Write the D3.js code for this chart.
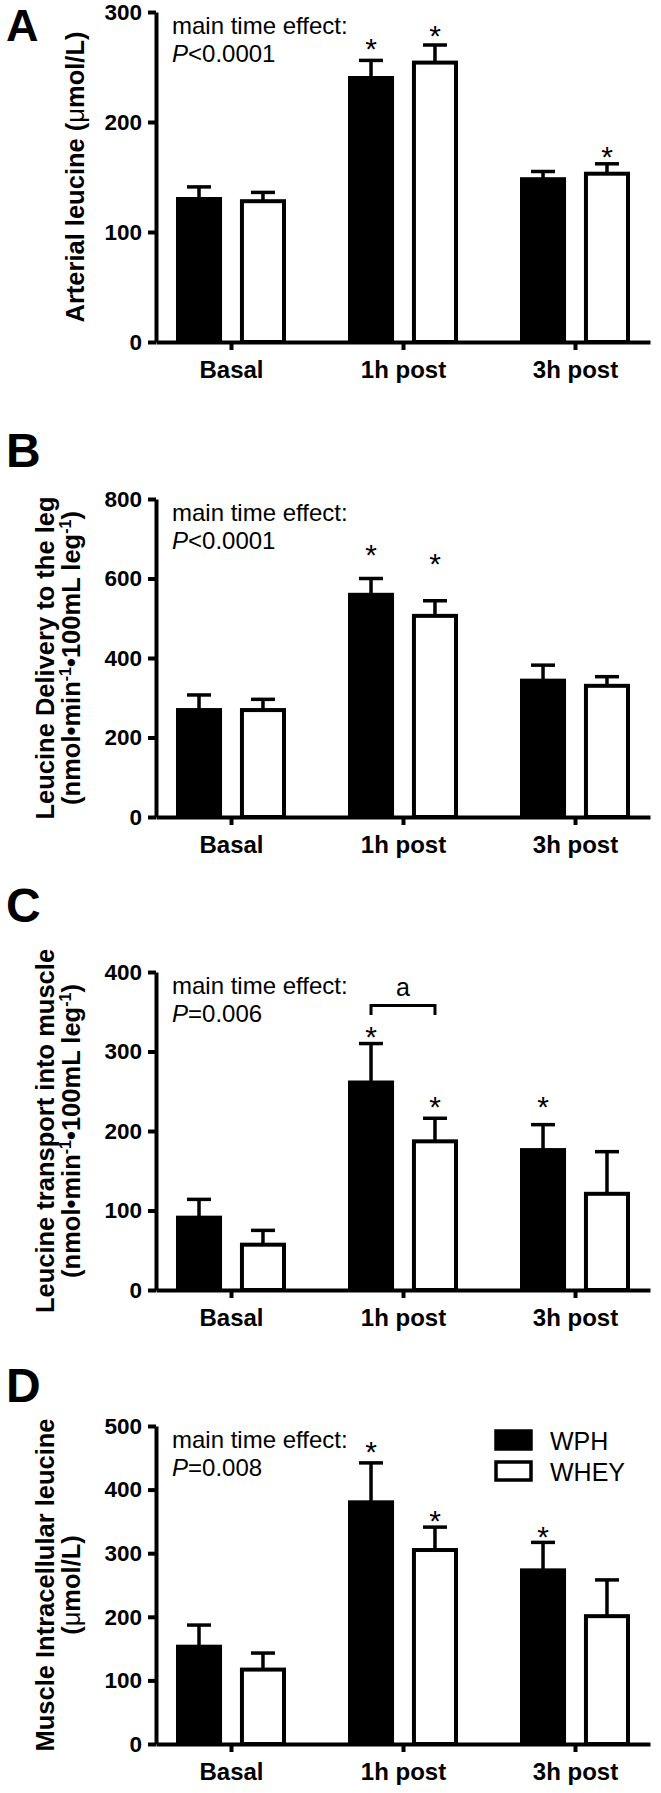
<!DOCTYPE html>
<html><head><meta charset="utf-8">
<script src="https://cdn.jsdelivr.net/npm/d3@7/dist/d3.min.js"></script>
<style>
html,body{margin:0;padding:0;background:#fff;}
svg text{font-family:"Liberation Sans",Arial,sans-serif;fill:#000;}
</style></head>
<body>
<svg id="chart" width="661" height="1793"></svg>
<script>
// ---------- data ----------
const categories = ["Basal", "1h post", "3h post"];
const seriesNames = ["WPH", "WHEY"];

const aTicks = [0, 100, 200, 300];
const aWPH = [130, 240, 148];
const aWPHsem = [11, 16, 7];
const aWHEY = [128, 254, 153];
const aWHEYsem = [8, 16, 9];
const aStars = [["1h post", "WPH", 273], ["1h post", "WHEY", 285], ["3h post", "WHEY", 175]];

const bTicks = [0, 200, 400, 600, 800];
const bWPH = [269, 559, 343];
const bWPHsem = [38, 41, 39];
const bWHEY = [269, 506, 330];
const bWHEYsem = [27, 38, 23];
const bStars = [["1h post", "WPH", 677], ["1h post", "WHEY", 654]];

const cTicks = [0, 100, 200, 300, 400];
const cWPH = [91, 261, 176];
const cWPHsem = [23, 49, 32];
const cWHEY = [57, 187, 121];
const cWHEYsem = [18, 29, 53];
const cStars = [["1h post", "WPH", 327], ["1h post", "WHEY", 239], ["3h post", "WPH", 239]];
const cBracket = ["1h post", 358, 346, 378]; // category, top value, end value, label value

const dTicks = [0, 100, 200, 300, 400, 500];
const dWPH = [153, 380, 273];
const dWPHsem = [34, 62, 44];
const dWHEY = [117, 305, 201];
const dWHEYsem = [26, 36, 57];
const dStars = [["1h post", "WPH", 470], ["1h post", "WHEY", 362], ["3h post", "WPH", 336]];

const pTexts = ["<0.0001", "<0.0001", "=0.006", "=0.008"];

// ---------- layout ----------
const svg = d3.select("#chart");
const axisX = 156, axisRight = 650;
const FONT = '"Liberation Sans",Arial,sans-serif';

const x = d3.scalePoint().domain(categories).range([axisX, axisRight]).padding(0.436);
const xi = d3.scaleBand().domain(seriesNames).range([-55, 55]).paddingInner(0.28);
const fills = {WPH: "#000", WHEY: "#fff"};

const panels = [
  {letter: "A", ly: 41, lsize: 45, top: 12, bottom: 342, max: 300, ticks: aTicks,
   vals: {WPH: aWPH, WHEY: aWHEY}, sems: {WPH: aWPHsem, WHEY: aWHEYsem}, stars: aStars,
   title: [{x: 84, parts: [["Arterial leucine (", "bold"], ["μ", "normal"], ["mol/L)", "bold"]]}]},
  {letter: "B", ly: 467, lsize: 48, top: 499, bottom: 817, max: 800, ticks: bTicks,
   vals: {WPH: bWPH, WHEY: bWHEY}, sems: {WPH: bWPHsem, WHEY: bWHEYsem}, stars: bStars,
   title: [{x: 54, parts: [["Leucine Delivery to the leg", "bold"]]}, {x: 80, unit: true}]},
  {letter: "C", ly: 922, lsize: 48, top: 972, bottom: 1290, max: 400, ticks: cTicks,
   vals: {WPH: cWPH, WHEY: cWHEY}, sems: {WPH: cWPHsem, WHEY: cWHEYsem}, stars: cStars, bracket: cBracket,
   title: [{x: 54, parts: [["Leucine transport into muscle", "bold"]]}, {x: 80, unit: true}]},
  {letter: "D", ly: 1402, lsize: 48, top: 1426, bottom: 1744, max: 500, ticks: dTicks, legend: true,
   vals: {WPH: dWPH, WHEY: dWHEY}, sems: {WPH: dWPHsem, WHEY: dWHEYsem}, stars: dStars,
   title: [{x: 54, parts: [["Muscle Intracellular leucine", "bold"]]}, {x: 80, parts: [["(", "bold"], ["μ", "normal"], ["mol/L)", "bold"]]}]}
];

panels.forEach((p, pi) => {
  const g = svg.append("g");
  const y = d3.scaleLinear().domain([0, p.max]).range([p.bottom, p.top]);

  // panel letter
  g.append("text").attr("x", 6).attr("y", p.ly).attr("font-size", p.lsize).attr("font-weight", "bold").text(p.letter);

  // y-axis title
  const cy = (p.top + p.bottom) / 2;
  p.title.forEach(t => {
    const tx = g.append("text").attr("transform", `translate(${t.x},${cy}) rotate(-90)`)
      .attr("text-anchor", "middle").attr("font-size", 25.5).attr("font-weight", "bold");
    if (t.unit) {
      tx.append("tspan").text("(nmol•min");
      tx.append("tspan").attr("dy", -9).attr("font-size", 16).text("-1");
      tx.append("tspan").attr("dy", 9).text("•100mL leg");
      tx.append("tspan").attr("dy", -9).attr("font-size", 16).text("-1");
      tx.append("tspan").attr("dy", 9).text(")");
    } else {
      t.parts.forEach(pt => tx.append("tspan").attr("font-weight", pt[1]).text(pt[0]));
    }
  });

  // bars
  seriesNames.forEach(s => {
    categories.forEach((c, i) => {
      const v = p.vals[s][i], e = p.sems[s][i];
      const cx = x(c) + xi(s) + xi.bandwidth() / 2;
      // error bar (upward)
      g.append("line").attr("x1", cx).attr("x2", cx).attr("y1", y(v)).attr("y2", y(v + e))
        .attr("stroke", "#000").attr("stroke-width", 3.5);
      g.append("line").attr("x1", cx - 12).attr("x2", cx + 12).attr("y1", y(v + e)).attr("y2", y(v + e))
        .attr("stroke", "#000").attr("stroke-width", 3.5);
      g.append("rect").attr("x", x(c) + xi(s) + 2).attr("width", xi.bandwidth() - 4)
        .attr("y", y(v)).attr("height", y(0) - y(v))
        .attr("fill", fills[s]).attr("stroke", "#000").attr("stroke-width", 4);
    });
  });

  // stars
  p.stars.forEach(st => {
    const cx = x(st[0]) + xi(st[1]) + xi.bandwidth() / 2;
    g.append("text").attr("x", cx).attr("y", y(st[2]) + 17).attr("text-anchor", "middle")
      .attr("font-size", 30).text("*");
  });

  // bracket
  if (p.bracket) {
    const b = p.bracket;
    const x1 = x(b[0]) + xi("WPH") + xi.bandwidth() / 2;
    const x2 = x(b[0]) + xi("WHEY") + xi.bandwidth() / 2;
    g.append("path").attr("d", `M${x1},${y(b[2])}V${y(b[1])}H${x2}V${y(b[2])}`)
      .attr("fill", "none").attr("stroke", "#000").attr("stroke-width", 3);
    g.append("text").attr("x", (x1 + x2) / 2).attr("y", y(b[3]) + 6.5).attr("text-anchor", "middle")
      .attr("font-size", 25).text("a");
  }

  // main effect text
  g.append("text").attr("x", 172).attr("y", p.top + 22).attr("font-size", 24).text("main time effect:");
  const pt = g.append("text").attr("x", 172).attr("y", p.top + 50).attr("font-size", 24);
  pt.append("tspan").attr("font-style", "italic").text("P");
  pt.append("tspan").text(pTexts[pi]);

  // axes
  const ya = g.append("g").attr("transform", `translate(${axisX},0)`)
    .call(d3.axisLeft(y).tickValues(p.ticks).tickSize(8).tickSizeOuter(0).tickPadding(6).tickFormat(d3.format("d")));
  ya.select(".domain").attr("stroke-width", 4).attr("stroke", "#000");
  ya.selectAll(".tick line").attr("stroke-width", 4).attr("stroke", "#000");
  ya.selectAll(".tick text").attr("font-size", 22.5).attr("font-weight", "bold").attr("font-family", FONT).attr("fill", "#000");

  const xa = g.append("g").attr("transform", `translate(0,${p.bottom})`)
    .call(d3.axisBottom(x).tickSize(8).tickSizeOuter(0).tickPadding(11));
  xa.select(".domain").attr("stroke-width", 4).attr("stroke", "#000");
  xa.selectAll(".tick line").attr("stroke-width", 4).attr("stroke", "#000");
  xa.selectAll(".tick text").attr("font-size", 24).attr("font-weight", "bold").attr("font-family", FONT).attr("fill", "#000");

  // legend
  if (p.legend) {
    seriesNames.forEach((s, i) => {
      const ly = p.top + 5 + i * 31;
      g.append("rect").attr("x", 496).attr("y", ly).attr("width", 35).attr("height", 18)
        .attr("fill", fills[s]).attr("stroke", "#000").attr("stroke-width", 3.5);
      g.append("text").attr("x", 550).attr("y", ly + 19).attr("font-size", 25).text(s);
    });
  }
});
</script>
</body></html>
